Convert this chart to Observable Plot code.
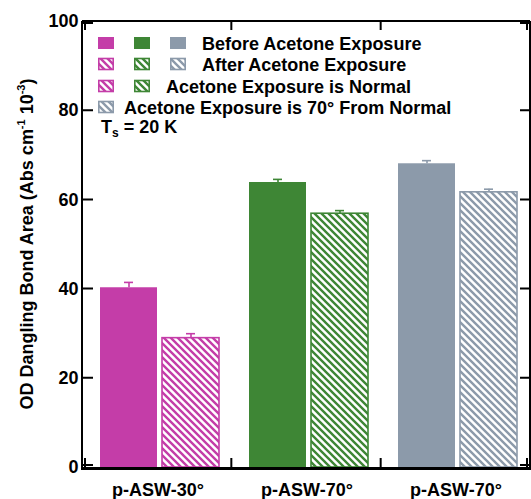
<!DOCTYPE html>
<html><head><meta charset="utf-8">
<script src="https://cdn.jsdelivr.net/npm/d3@7"></script>
<script src="https://cdn.jsdelivr.net/npm/@observablehq/plot@0.6"></script>
<style>
body{margin:0;background:#fff}
#chart svg{font-family:"Liberation Sans",Arial,sans-serif}
</style>
</head><body><div id="chart"></div>
<script>
// ---- data ----
const categories = ["p-ASW-30°", "p-ASW-70°", "p-ASW-70°"];
const colors = ["#C43DA8", "#3E8635", "#8C9AAA"];
const series = ["Before", "After"];
const beforeValues = [40.3, 63.9, 68.1];
const afterValues = [29.0, 56.9, 61.7];
const beforeErrors = [1.2, 0.7, 0.7];
const afterErrors = [1.0, 0.7, 0.7];
const yTicks = [0, 20, 40, 60, 80, 100];
const legendLabels = ["Before Acetone Exposure", "After Acetone Exposure", "Acetone Exposure is Normal", "Acetone Exposure is 70° From Normal"];
const legendSwatchGroups = [[0, 1, 2], [0, 1, 2], [0, 1], [2]];
const legendHatched = [false, true, true, true];
const yLabelParts = ["OD Dangling Bond Area (Abs cm", "-1", " 10", "-3", ")"];
const annotationParts = ["T", "s", " = 20 K"];

const data = categories.flatMap((c, i) => [
  {gi: i, series: "Before", value: beforeValues[i], err: beforeErrors[i], color: colors[i], fill: colors[i], outline: "none"},
  {gi: i, series: "After", value: afterValues[i], err: afterErrors[i], color: colors[i], fill: `url(#hatch-${i})`, outline: colors[i]}
]);

const W = 531, H = 499, ML = 82, MR = 1, MT = 21, MB = 32;

const plot = Plot.plot({
  width: W, height: H,
  marginLeft: ML, marginRight: MR, marginTop: MT, marginBottom: MB,
  style: {fontFamily: "'Liberation Sans', Arial, sans-serif", fontSize: "18px", fontWeight: "bold", color: "#000", background: "#fff", overflow: "visible"},
  fx: {domain: [0, 1, 2], padding: 0, tickFormat: i => categories[i], label: null, tickSize: 0, tickPadding: 16, axis: "bottom"},
  x: {domain: series, paddingInner: 0.08, paddingOuter: 0.24, align: 0.57, axis: null},
  y: {domain: [0, 100], ticks: yTicks, tickSize: 0, tickPadding: 5, label: null},
  color: {type: "identity"},
  marks: [
    Plot.barY(data, {fx: "gi", x: "series", y: "value", fill: "fill", stroke: "outline", strokeWidth: 1.6}),
    Plot.ruleX(data, {fx: "gi", x: "series", y1: "value", y2: d => d.value + d.err, stroke: "color", strokeWidth: 1.6}),
    Plot.tickY(data, {fx: "gi", x: "series", y: d => d.value + d.err, stroke: "color", strokeWidth: 1.6, insetLeft: 24, insetRight: 24})
  ]
});

const svg = d3.select(plot);
const yS = plot.scale("y");
const y0 = yS.apply(100), y1 = yS.apply(0);
const x0 = ML, x1 = W - MR;

// hatch patterns
const defs = svg.insert("defs", ":first-child");
colors.forEach((c, i) => {
  const p = defs.append("pattern").attr("id", `hatch-${i}`)
    .attr("patternUnits", "userSpaceOnUse").attr("width", 7).attr("height", 7);
  p.append("rect").attr("width", 7).attr("height", 7).attr("fill", "#fff");
  p.append("path").attr("d", "M-1,-1L8,8M-1,6L1,8M6,-1L8,1")
    .attr("stroke", c).attr("stroke-width", 2.4).attr("fill", "none");
});

// frame & ticks
const g = svg.append("g").attr("stroke", "#000").attr("fill", "none");
g.append("path").attr("d", `M${x0},${y0}V${y1}M${x1},${y0}V${y1}M${x0},${y0}H${x1}`).attr("stroke-width", 2);
g.append("path").attr("d", `M${x0 - 1},${y1 + 1.5}H${x1 + 1}`).attr("stroke-width", 3);
yTicks.forEach(t => {
  const yy = t === 0 ? yS.apply(t) - 2 : t === 100 ? yS.apply(t) + 2 : yS.apply(t);
  g.append("path").attr("d", `M${x0},${yy}h11M${x1},${yy}h-10`).attr("stroke-width", 2);
});
const step = (x1 - x0) / categories.length;
for (let k = 0; k <= categories.length; k++) {
  const xx = k === 0 ? x0 + 3 : k === categories.length ? x1 - 3 : x0 + step * k;
  g.append("path").attr("d", `M${xx},${y1}v-9M${xx},${y0}v9`).attr("stroke-width", 2);
}

// y label
const yl = svg.append("text")
  .attr("transform", `translate(33,${(y0 + y1) / 2}) rotate(-90)`)
  .attr("text-anchor", "middle").attr("font-size", 18).attr("font-weight", "bold").attr("fill", "#000");
yLabelParts.forEach((t, i) => {
  const sup = i === 1 || i === 3;
  yl.append("tspan").text(t).attr("font-size", sup ? 11 : 18).attr("dy", sup ? -8 : (i === 0 ? 0 : 8));
});

// legend
const lg = svg.append("g").attr("font-size", 18).attr("font-weight", "bold").attr("text-anchor", "start");
const rowY = [43, 64, 86, 107];
legendLabels.forEach((label, r) => {
  const cy = rowY[r];
  const sw = legendSwatchGroups[r];
  sw.forEach((ci, k) => {
    const sx = 98 + k * 36;
    if (legendHatched[r]) {
      lg.append("rect").attr("x", sx + 0.8).attr("y", cy - 5.5).attr("width", 14.4).attr("height", 11)
        .attr("fill", `url(#hatch-${ci})`).attr("stroke", colors[ci]).attr("stroke-width", 1.6);
    } else {
      lg.append("rect").attr("x", sx).attr("y", cy - 6).attr("width", 16).attr("height", 12).attr("fill", colors[ci]);
    }
  });
  const tx = 98 + sw.length * 36 - 20 + (sw.length === 1 ? 10 : 16);
  lg.append("text").attr("x", tx).attr("y", cy + 6.5).attr("fill", "#000").text(label);
});
const ts = lg.append("text").attr("x", 101).attr("y", 133).attr("fill", "#000");
ts.append("tspan").text(annotationParts[0]);
ts.append("tspan").text(annotationParts[1]).attr("font-size", 12).attr("dy", 4);
ts.append("tspan").text(annotationParts[2]).attr("dy", -4);

document.getElementById("chart").appendChild(plot);
</script>
</body></html>
